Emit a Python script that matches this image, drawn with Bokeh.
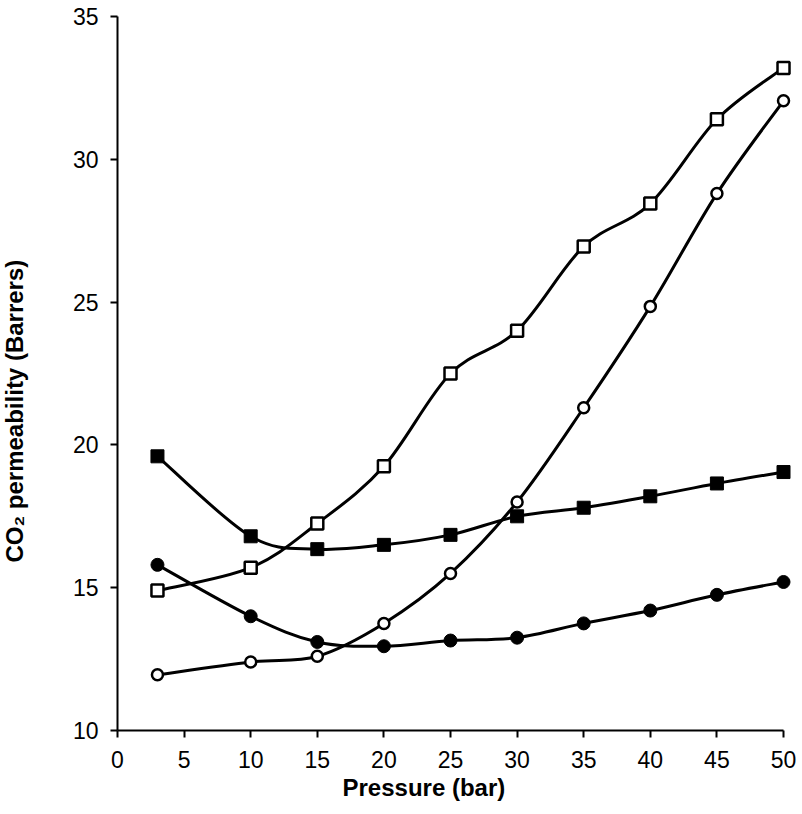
from bokeh.plotting import figure
from bokeh.models import Range1d, SingleIntervalTicker, Title
from bokeh.embed import file_html
from bokeh.resources import INLINE

# pressure (bar) and CO2 permeability (Barrers)
pressure = [3, 10, 15, 20, 25, 30, 35, 40, 45, 50]
filled_sq = [19.6, 16.8, 16.35, 16.5, 16.85, 17.5, 17.8, 18.2, 18.65, 19.05]
open_sq = [14.9, 15.7, 17.25, 19.25, 22.5, 24.0, 26.95, 28.45, 31.4, 33.2]
filled_circ = [15.8, 14.0, 13.1, 12.95, 13.15, 13.25, 13.75, 14.2, 14.75, 15.2]
open_circ = [11.95, 12.4, 12.6, 13.75, 15.5, 18.0, 21.3, 24.85, 28.8, 32.05]

FONT = "Liberation Sans"


def smooth_segments(xs, ys):
    # catmull-rom style control points so the curve goes through every point
    n = len(xs)
    seg = dict(x0=[], y0=[], x1=[], y1=[], cx0=[], cy0=[], cx1=[], cy1=[])
    for i in range(n - 1):
        a = max(i - 1, 0)
        d = min(i + 2, n - 1)
        seg["x0"].append(xs[i])
        seg["y0"].append(ys[i])
        seg["x1"].append(xs[i + 1])
        seg["y1"].append(ys[i + 1])
        seg["cx0"].append(xs[i] + (xs[i + 1] - xs[a]) / 6)
        seg["cy0"].append(ys[i] + (ys[i + 1] - ys[a]) / 6)
        seg["cx1"].append(xs[i + 1] - (xs[d] - xs[i]) / 6)
        seg["cy1"].append(ys[i + 1] - (ys[d] - ys[i]) / 6)
    return seg


p = figure(
    width=800,
    height=810,
    x_range=Range1d(0, 50.6),
    y_range=Range1d(10, 35),
    toolbar_location=None,
    output_backend="svg",
    min_border_left=117,
    min_border_right=9,
    min_border_top=16,
    min_border_bottom=80,
)
p.outline_line_color = None
p.grid.visible = False

p.xaxis.ticker = SingleIntervalTicker(interval=5)
p.yaxis.ticker = SingleIntervalTicker(interval=5)
p.xaxis.bounds = (0, 50)
for ax in (p.xaxis, p.yaxis):
    ax.axis_line_width = 2
    ax.axis_line_color = "black"
    ax.major_tick_line_width = 2
    ax.major_tick_line_color = "black"
    ax.major_tick_out = 7
    ax.major_tick_in = 0
    ax.minor_tick_out = 0
    ax.minor_tick_in = 0
    ax.major_label_text_font = FONT
    ax.major_label_text_font_size = "23px"
    ax.major_label_text_color = "black"
p.xaxis.major_label_standoff = 13
p.yaxis.major_label_standoff = 12

# smoothed lines
for ys in (filled_sq, open_sq, filled_circ, open_circ):
    s = smooth_segments(pressure, ys)
    p.bezier(line_color="black", line_width=3, **s)

# markers
p.scatter(pressure, filled_sq, marker="square", size=13,
          fill_color="black", line_color="black")
p.scatter(pressure, open_sq, marker="square", size=12,
          fill_color="white", line_color="black", line_width=2.5)
p.scatter(pressure, filled_circ, marker="circle", size=13,
          fill_color="black", line_color="black")
p.scatter(pressure, open_circ, marker="circle", size=11,
          fill_color="white", line_color="black", line_width=2.5)

# axis titles (a bit off-centre in the original)
xtitle = Title(text="Pressure (bar)", align="left", offset=225,
               text_font=FONT, text_font_size="24px", text_font_style="bold",
               text_color="black", standoff=2)
# blank spacer pushes the y title out to the left edge
spacer = Title(text=" ", text_font_size="10px", standoff=27)
ytitle = Title(text="CO\u2082 permeability (Barrers)", align="left", offset=168,
               vertical_align="top",
               text_font=FONT, text_font_size="24px", text_font_style="bold",
               text_color="black", standoff=0)
p.add_layout(xtitle, "below")
p.add_layout(spacer, "left")
p.add_layout(ytitle, "left")

open("out.html", "w").write(file_html(p, INLINE))
